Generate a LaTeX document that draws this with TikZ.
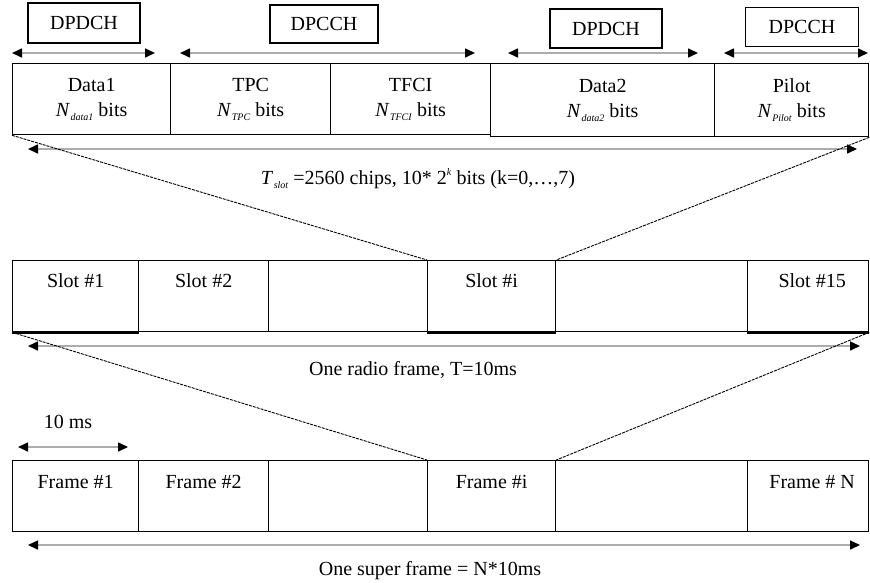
\documentclass[tikz,border=0pt]{standalone}
\usepackage{fontspec}
\setmainfont{Liberation Serif}
\usetikzlibrary{arrows.meta}
\newcommand\subit[2]{\textit{#1}\kern0.5pt\raisebox{-0.45ex}{\fontsize{10}{10}\selectfont\textit{#2}}}
\begin{document}
\begin{tikzpicture}[x=1pt,y=-1pt,
  font=\fontsize{20}{25}\selectfont,
  cell/.style={draw=black, line width=1.3pt, anchor=north west, inner sep=0pt, align=center},
  tag/.style={draw=black, line width=1.3pt, inner sep=0pt},
  txt/.style={inner sep=0pt, anchor=base},
  span/.style={gray!65, line width=1.6pt, {Triangle[black,length=10pt,width=9pt]}-{Triangle[black,length=10pt,width=9pt]}},
  fan/.style={black, line width=0.9pt, dash pattern=on 3pt off 1pt},
  heavy/.style={black, line width=3pt}]
\useasboundingbox (0,0) rectangle (870,583);

% ---------- top row: slot fields ----------
\node[cell, minimum width=158pt, minimum height=71pt] (d1) at (12,63) {Data1\\\subit{N}{data1} bits};
\node[cell, minimum width=160pt, minimum height=71pt] (tpc) at (170,63) {TPC\\\subit{N}{TPC} bits};
\node[cell, minimum width=160pt, minimum height=71pt] (tfci) at (330,63) {TFCI\\\subit{N}{TFCI} bits};
\node[cell, minimum width=224pt, minimum height=73pt] (d2) at (490,63) {Data2\\\subit{N}{data2} bits};
\node[cell, minimum width=154pt, minimum height=73pt] (pl) at (714,63) {Pilot\\\subit{N}{Pilot} bits};

% channel tags
\node[tag, minimum width=112pt, minimum height=40pt] (g1) at (84,23) {DPDCH};
\node[tag, minimum width=108pt, minimum height=38pt] (g2) at (324,24) {DPCCH};
\node[tag, minimum width=112pt, minimum height=39pt] (g3) at (606,28.5) {DPDCH};
\node[tag, minimum width=113pt, minimum height=39pt] (g4) at (802,27) {DPCCH};

\coordinate (a1l) at (12,53);  \coordinate (a1r) at (155,53);
\coordinate (a2l) at (180,53); \coordinate (a2r) at (475,53);
\coordinate (a3l) at (508,53); \coordinate (a3r) at (698,53);
\coordinate (a4l) at (724,53); \coordinate (a4r) at (868,53);
\draw[span] (a1l) -- (a1r);
\draw[span] (a2l) -- (a2r);
\draw[span] (a3l) -- (a3r);
\draw[span] (a4l) -- (a4r);

% T slot
\coordinate (tsl) at (28,149); \coordinate (tsr) at (857,149);
\draw[span] (tsl) -- (tsr);
\node[txt] (tslot) at (418,184) {\subit{T}{slot} =2560 chips, 10* 2\raisebox{0.9ex}{\fontsize{10}{10}\selectfont\textit{k}} bits (k=0,\ldots,7)};

% ---------- slot row ----------
\node[cell, minimum width=126pt, minimum height=71pt] (s1) at (12,260) {};
\node[cell, minimum width=130pt, minimum height=71pt] (s2) at (138,260) {};
\node[cell, minimum width=159pt, minimum height=71pt] (s3) at (268,260) {};
\node[cell, minimum width=128pt, minimum height=71pt] (si) at (427,260) {};
\node[cell, minimum width=192pt, minimum height=71pt] (s5) at (555,260) {};
\node[cell, minimum width=121pt, minimum height=71pt] (s15) at (747,260) {};
\draw[heavy] (s1.south west) -- (s1.south east);
\draw[heavy] (si.south west) -- (si.south east);
\draw[heavy] (s15.south west) -- (s15.south east);
\node[txt] (ls1) at ([yshift=-27pt]s1.north) {Slot \#1};
\node[txt] (ls2) at ([yshift=-27pt]s2.north) {Slot \#2};
\node[txt] (lsi) at ([yshift=-27pt]si.north) {Slot \#i};
\node[txt] (ls15) at ([yshift=-27pt,xshift=4pt]s15.north) {Slot \#15};

\draw[fan] (d1.south west) -- (si.north west);
\draw[fan] (pl.south east) -- (si.north east);

\coordinate (rfl) at (28,346); \coordinate (rfr) at (860,346);
\draw[span] (rfl) -- (rfr);
\node[txt] (rf) at (413,375) {One radio frame, T=10ms};

% ---------- frame row ----------
\node[txt] (ten) at (68,428) {10 ms};
\coordinate (tml) at (18,447); \coordinate (tmr) at (128,447);
\draw[span] (tml) -- (tmr);

\node[cell, minimum width=126pt, minimum height=71pt] (f1) at (12,460) {};
\node[cell, minimum width=130pt, minimum height=71pt] (f2) at (138,460) {};
\node[cell, minimum width=159pt, minimum height=71pt] (f3) at (268,460) {};
\node[cell, minimum width=128pt, minimum height=71pt] (fi) at (427,460) {};
\node[cell, minimum width=192pt, minimum height=71pt] (f5) at (555,460) {};
\node[cell, minimum width=121pt, minimum height=71pt] (fn) at (747,460) {};
\node[txt] (lf1) at ([yshift=-28pt]f1.north) {Frame \#1};
\node[txt] (lf2) at ([yshift=-28pt]f2.north) {Frame \#2};
\node[txt] (lfi) at ([yshift=-28pt]fi.north) {Frame \#i};
\node[txt] (lfn) at ([yshift=-28pt,xshift=4pt]fn.north) {Frame \# N};

\draw[fan] (s1.south west) -- (fi.north west);
\draw[fan] (s15.south east) -- (fi.north east);

\coordinate (sfl) at (28,545); \coordinate (sfr) at (860,545);
\draw[span] (sfl) -- (sfr);
\node[txt] (sf) at (430,575) {One super frame = N*10ms};
\end{tikzpicture}
\end{document}
